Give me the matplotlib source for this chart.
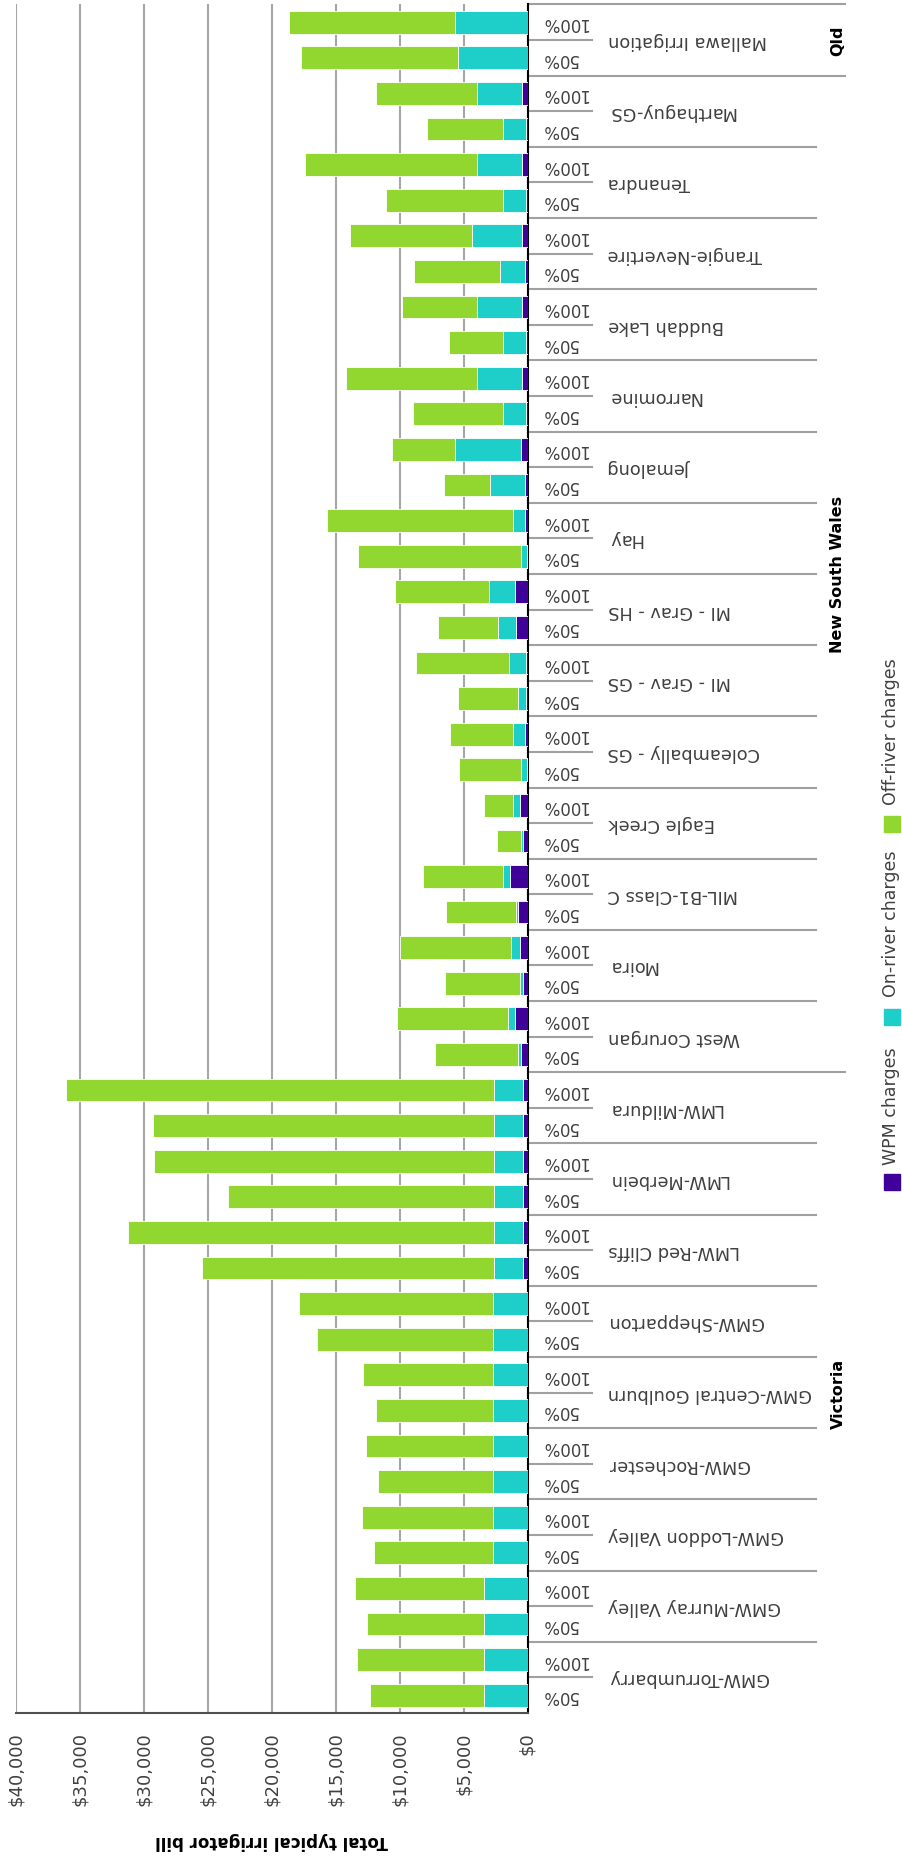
import numpy as np
import matplotlib.pyplot as plt
from matplotlib.patches import Rectangle
from matplotlib.transforms import blended_transform_factory

# Irrigation schemes, listed from the bottom of the chart upwards
schemes = ['GMW-Torrumbarry', 'GMW-Murray Valley', 'GMW-Loddon Valley', 'GMW-Rochester',
           'GMW-Central Goulburn', 'GMW-Shepparton', 'LMW-Red Cliffs', 'LMW-Merbein',
           'LMW-Mildura', 'West Corurgan', 'Moira', 'MIL-B1-Class C', 'Eagle Creek',
           'Coleambally - GS', 'MI - Grav - GS', 'MI - Grav - HS', 'Hay', 'Jemalong',
           'Narromine', 'Buddah Lake', 'Trangie-Nevertire', 'Tenandra', 'Marthaguy-GS',
           'Mallawa Irrigation']
levels = ['50%', '100%']
regions = ['Victoria', 'New South Wales', 'Qld']
region_sizes = [9, 14, 1]

# Bill components ($) for each scheme at 50% and 100% allocation
wpm = [0, 0, 0, 0, 0, 0, 0, 0, 0, 0, 0, 0,
       336, 336, 336, 336, 336, 336,
       520, 990, 329, 587, 720, 1370, 329, 587, 60, 196, 117, 150, 900, 978,
       60, 196, 196, 532, 112, 440, 112, 440, 196, 440, 112, 440, 112, 440,
       0, 0]
on_river = [3436, 3436, 3436, 3436, 2739, 2739, 2739, 2739, 2739, 2739, 2739, 2739,
            2317, 2317, 2317, 2317, 2317, 2317,
            190, 515, 258, 704, 180, 524, 180, 524, 472, 915, 601, 1298, 1385, 2060,
            472, 915, 2739, 5118, 1838, 3536, 1833, 3532, 1984, 3920, 1843, 3530,
            1843, 3530, 5478, 5646]
off_river = [8919, 9898, 9114, 10092, 9251, 10202, 8972, 9894, 9140, 10118, 13725, 15175,
             22812, 28650, 20794, 26609, 26694, 33487,
             6500, 8705, 5869, 8662, 5454, 6284, 1854, 2319, 4828, 4929, 4746, 7303,
             4744, 7307, 12708, 14556, 3599, 4954, 7011, 10228, 4198, 5843, 6705, 9560,
             9140, 13440, 5925, 7880, 12212, 13024]

ticks = list(range(0, 40001, 5000))
tick_labels = [f'${t:,}' for t in ticks]

c_wpm = '#40009A'
c_on = '#1DCFC8'
c_off = '#92D630'
grey = '#404040'

plt.rcParams['font.family'] = 'DejaVu Sans'

W, H = 902, 1858
fig = plt.figure(figsize=(W / 100, H / 100), dpi=100)
x0, x1 = 16.4, 527.5
y0, y1 = 5.4, 1714
ax = fig.add_axes([x0 / W, 1 - y1 / H, (x1 - x0) / W, (y1 - y0) / H])

wpm = np.array(wpm)
on_river = np.array(on_river)
off_river = np.array(off_river)
pos = np.arange(len(wpm))

kw = dict(height=0.64, edgecolor='white', linewidth=0.6, zorder=3)
ax.barh(pos, wpm, color=c_wpm, **kw)
ax.barh(pos, on_river, left=wpm, color=c_on, **kw)
ax.barh(pos, off_river, left=wpm + on_river, color=c_off, **kw)

ax.set_xlim(40000, 0)
ax.set_ylim(-0.5, len(pos) - 0.5)
ax.set_xticks(ticks)
ax.set_xticklabels(tick_labels, rotation=90, fontsize=13, color=grey, va='top')
ax.tick_params(axis='x', length=0, pad=13)
ax.set_yticks([])
ax.grid(axis='x', color='#A6A6A6', linewidth=1.5, zorder=0)
ax.set_axisbelow(True)
for s in ['top', 'left']:
    ax.spines[s].set_visible(False)
ax.spines['right'].set_color('black')
ax.spines['right'].set_linewidth(1.5)
ax.spines['bottom'].set_color('#505050')
ax.spines['bottom'].set_linewidth(1.5)

# Category axis on the right-hand side
span = x1 - x0
def fx(px):
    return (px - x0) / span

tr = blended_transform_factory(ax.transAxes, ax.transData)
line_kw = dict(color='#A0A0A0', linewidth=1.5, transform=tr, clip_on=False)

for i, name in enumerate(schemes):
    ax.text(fx(608), 2 * i + 0.5, name, rotation=180, ha='left', va='center',
            fontsize=12.8, color=grey, transform=tr)
    for j, lv in enumerate(levels):
        ax.text(fx(541), 2 * i + j, lv, rotation=180, ha='left', va='center',
                fontsize=12, color=grey, transform=tr)
    ax.plot([1, fx(591.7)], [2 * i + 0.5] * 2, **line_kw)

bounds = np.cumsum([0] + region_sizes) * 2 - 0.5
for k in range(1, len(schemes) + 1):
    yb = 2 * k - 0.5
    end = 845 if yb in bounds else 816
    ax.plot([1, fx(end)], [yb, yb], **line_kw)

for r, name in enumerate(regions):
    yc = (bounds[r] + bounds[r + 1]) / 2
    ax.text(fx(838), yc, name, rotation=90, ha='center', va='center',
            fontsize=11.5, fontweight='bold', color='black', transform=tr)

# Axis title
fig.text(272 / W, 1 - 1841 / H, 'Total typical irrigator bill', rotation=180,
         ha='center', va='center', fontsize=12, fontweight='bold', color='black')

# Legend, drawn upright along the right edge
legend_items = [('WPM charges', c_wpm, 1183, 1165),
                ('On-river charges', c_on, 1018, 997),
                ('Off-river charges', c_off, 825, 805)]
for label, col, sq_y, txt_y in legend_items:
    fig.patches.append(Rectangle(((892 - 8) / W, 1 - (sq_y + 8) / H), 16 / W, 16 / H,
                                 color=col, transform=fig.transFigure))
    fig.text(891 / W, 1 - txt_y / H, label, rotation=90, ha='center', va='bottom',
             fontsize=12.5, color=grey)

fig.savefig('out.png', dpi=100)
